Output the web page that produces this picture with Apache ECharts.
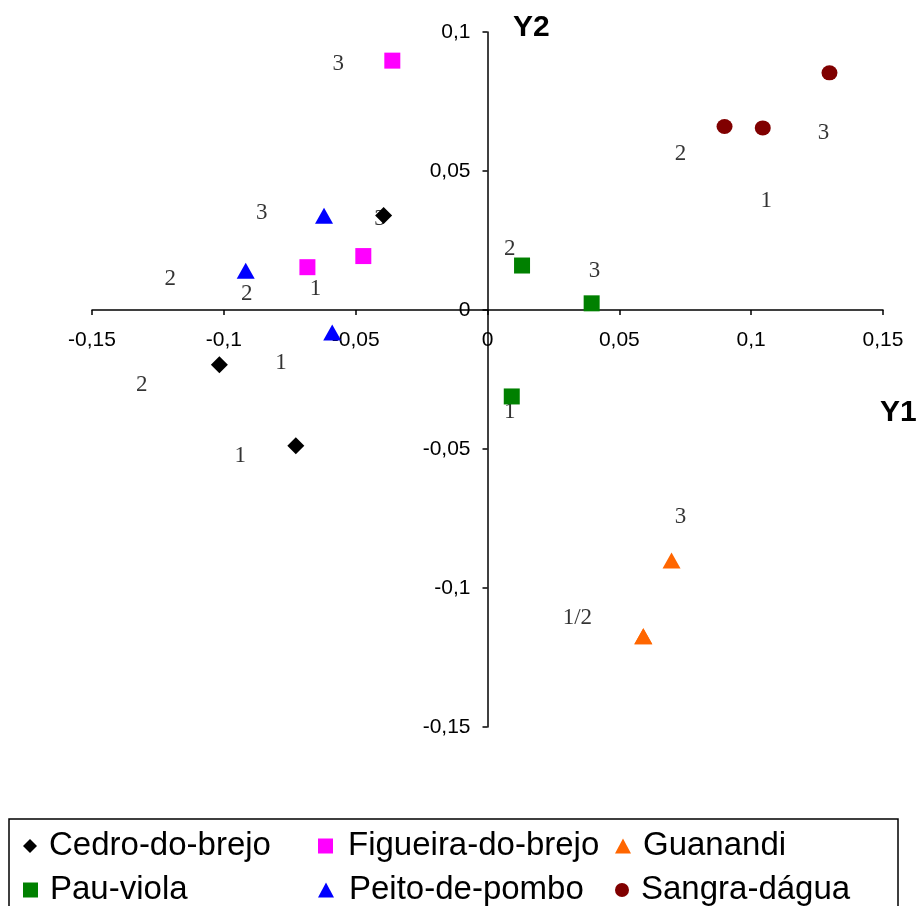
<!DOCTYPE html>
<html>
<head>
<meta charset="utf-8">
<script src="https://cdn.jsdelivr.net/npm/echarts@6/dist/echarts.min.js"></script>
<style>html,body{margin:0;padding:0;background:#fff;}#c{width:918px;height:906px;}</style>
</head>
<body>
<div id="c"></div>
<script>
// ---- data ----
const seriesNames = ['Cedro-do-brejo', 'Figueira-do-brejo', 'Guanandi', 'Pau-viola', 'Peito-de-pombo', 'Sangra-dágua'];
const cedro    = [[-0.1017, -0.0197], [-0.0727, -0.0488], [-0.0394, 0.0340]];
const figueira = [[-0.0361, 0.0897], [-0.0471, 0.0194], [-0.0683, 0.0154]];
const guanandi = [[0.0698, -0.0901], [0.0591, -0.1174], [0.0591, -0.1174]];
const pauViola = [[0.0131, 0.0160], [0.0395, 0.0024], [0.0092, -0.0311]];
const peito    = [[-0.0917, 0.0141], [-0.0620, 0.0339], [-0.0589, -0.0081]];
const sangra   = [[0.0899, 0.0660], [0.1044, 0.0655], [0.1297, 0.0853]];
// annotation labels [x, y, text]
const annotations = [
  [-0.0566, 0.0885, '3'], [-0.0856, 0.0350, '3'], [-0.0408, 0.0326, '3'],
  [-0.1203, 0.0113, '2'], [-0.0913, 0.0056, '2'], [-0.0652, 0.0074, '1'],
  [-0.0783, -0.0192, '1'], [-0.1311, -0.0269, '2'], [-0.0938, -0.0526, '1'],
  [0.0084, 0.0220, '2'], [0.0084, -0.0367, '1'], [0.0406, 0.0140, '3'],
  [0.0732, 0.0562, '2'], [0.1057, 0.0394, '1'], [0.1274, 0.0637, '3'],
  [0.0732, -0.0745, '3'], [0.0341, -0.1108, '1/2']
];
const xMin = -0.15, xMax = 0.15, yMin = -0.15, yMax = 0.1, step = 0.05;

// ---- styles ----
const colors = ['#000000', '#FF00FF', '#FF6600', '#008000', '#0000FF', '#800000'];
const symbols = ['diamond', 'rect', 'triangle', 'rect', 'triangle', 'circle'];
const sizes = [[17, 17], [16, 16], [18, 16], [16, 16], [18, 16], [16, 15]];
const legendSizes = [[14, 14], [15, 15], [16, 15], [15, 15], [16, 15], [14, 14]];
const seriesData = [cedro, figueira, guanandi, pauViola, peito, sangra];
const legendPos = [
  {left: 23, top: 829, pad: 7}, {left: 318, top: 829, pad: 10}, {left: 615, top: 829, pad: 7},
  {left: 23, top: 873, pad: 7}, {left: 318, top: 873, pad: 10}, {left: 615, top: 873, pad: 7}
];
const FONT = '"Liberation Sans", Arial, sans-serif';

const fmt = v => {
  const r = Math.round(v * 100) / 100;
  return String(r).replace('.', ',');
};

const series = [{
  type: 'scatter',
  name: 'labels',
  symbolSize: 0,
  silent: true,
  z: 1,
  data: annotations.map(a => ({value: [a[0], a[1]], labelText: a[2]})),
  label: {
    show: true,
    position: 'inside',
    formatter: p => p.data.labelText,
    fontFamily: '"Liberation Serif", "Times New Roman", serif',
    fontSize: 23,
    color: '#000',
    textBorderWidth: 0
  }
}];
seriesNames.forEach((n, i) => {
  series.push({
    type: 'scatter',
    name: n,
    z: 2,
    symbol: symbols[i],
    symbolSize: sizes[i],
    itemStyle: {color: colors[i], opacity: 1},
    data: seriesData[i]
  });
});

const legends = seriesNames.map((n, i) => ({
  data: [{name: n, icon: symbols[i]}],
  left: legendPos[i].left,
  top: legendPos[i].top,
  orient: 'horizontal',
  itemWidth: legendSizes[i][0],
  itemHeight: legendSizes[i][1],
  selectedMode: false,
  padding: 0,
  textStyle: {
    fontFamily: FONT,
    fontSize: 33,
    lineHeight: 34,
    color: '#000',
    padding: [0, 0, 0, legendPos[i].pad]
  }
}));

const axisCommon = {
  type: 'value', interval: step,
  splitLine: {show: false},
  axisLine: {show: true, onZero: false, lineStyle: {color: '#000', width: 1.5}},
  axisTick: {show: true, length: 5, lineStyle: {color: '#000', width: 1.5}},
  axisLabel: {
    formatter: fmt, color: '#000',
    fontFamily: FONT, fontSize: 21,
    showMinLabel: true, showMaxLabel: true
  }
};

const chart = echarts.init(document.getElementById('c'), null, {renderer: 'canvas'});
const grid = {left: 92, right: 35, top: 32, bottom: 179, containLabel: false};
chart.setOption({
  backgroundColor: '#fff',
  animation: false,
  grid: grid,
  xAxis: Object.assign({}, axisCommon, {min: xMin, max: xMax, position: 'bottom', offset: 0,
    axisLabel: Object.assign({}, axisCommon.axisLabel, {margin: 20})}),
  yAxis: Object.assign({}, axisCommon, {min: yMin, max: yMax, position: 'left', offset: 0,
    axisLabel: Object.assign({}, axisCommon.axisLabel, {margin: 17})}),
  legend: legends,
  graphic: [
    {type: 'text', x: 513, y: 28, z: 10,
     style: {text: 'Y2', fill: '#000', font: 'bold 30px ' + FONT, align: 'left', verticalAlign: 'middle'}},
    {type: 'text', x: 880, y: 413, z: 10,
     style: {text: 'Y1', fill: '#000', font: 'bold 30px ' + FONT, align: 'left', verticalAlign: 'middle'}},
    {type: 'rect', shape: {x: 9, y: 819, width: 889, height: 100}, z: 0,
     style: {fill: 'none', stroke: '#000', lineWidth: 1.5}}
  ],
  series: series
});
// move both axes (line, ticks and labels) to cross at the origin
const origin = chart.convertToPixel({gridIndex: 0}, [0, 0]);
const bottomEdge = 906 - grid.bottom;
const leftEdge = grid.left;
chart.setOption({
  xAxis: {offset: -(bottomEdge - origin[1])},
  yAxis: {offset: -(origin[0] - leftEdge)}
});
</script>
</body>
</html>
